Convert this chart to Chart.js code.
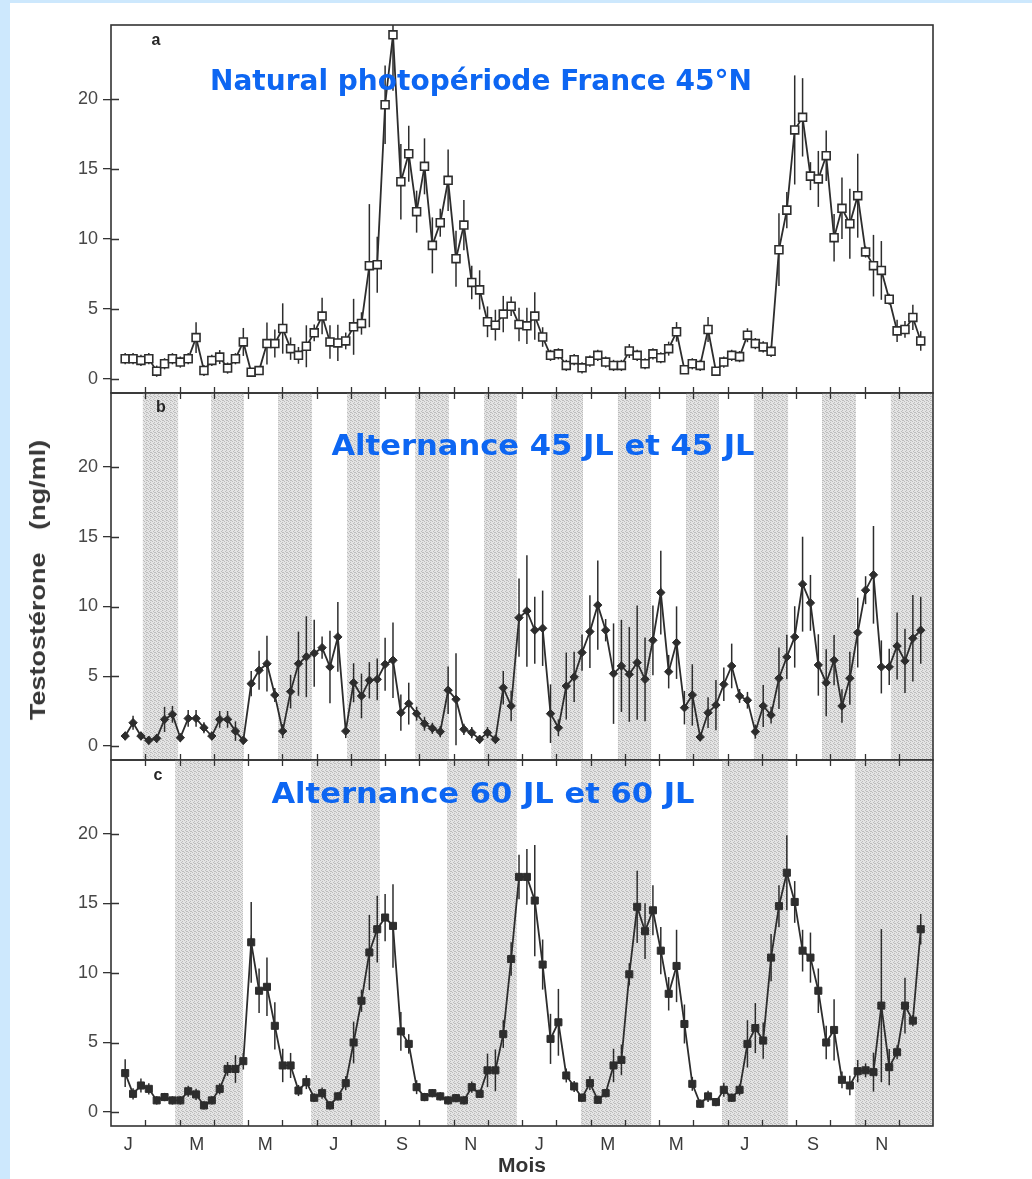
<!DOCTYPE html>
<html>
<head>
<meta charset="utf-8">
<title>Testostérone</title>
<script src="https://cdn.jsdelivr.net/npm/chart.js@4.4.1/dist/chart.umd.min.js"></script>
<style>
  html, body { margin: 0; padding: 0; }
  body { width: 1032px; height: 1179px; background: #cde8fd; position: relative; overflow: hidden; }
  #sheet { position: absolute; left: 10px; top: 3px; width: 1022px; height: 1176px; background: #fff; }
  canvas { position: absolute; left: 0; }
  .lbl { position: absolute; white-space: pre; transform: translate(-50%, -50%); }
  .title { font: bold 29px "DejaVu Sans", sans-serif; color: #0d66f2; }
  .panel { font: bold 16px "Liberation Sans", Arial, sans-serif; color: #262626; }
  .ytitle { font: bold 22px "Liberation Sans", Arial, sans-serif; color: #383838; }
</style>
</head>
<body>
<div id="sheet"></div>
<canvas id="cA" width="1032" height="409" style="top:0px"></canvas>
<canvas id="cB" width="1032" height="399" style="top:377px"></canvas>
<canvas id="cC" width="1032" height="435" style="top:744px"></canvas>

<div class="lbl panel" style="left:156px;top:40px">a</div>
<div class="lbl panel" style="left:161px;top:407px">b</div>
<div class="lbl panel" style="left:158px;top:775px">c</div>

<div class="lbl title" data-w="542" style="left:481px;top:80px">Natural photopériode France 45°N</div>
<div class="lbl title" data-w="423" style="left:543px;top:445px">Alternance 45 JL et 45 JL</div>
<div class="lbl title" data-w="423" style="left:483px;top:793px">Alternance 60 JL et 60 JL</div>

<div class="lbl ytitle" data-w="280" data-rot="-90" style="left:38px;top:580px">Testostérone   (ng/ml)</div>

<script>
// Axis labelling: month initials, centred in every other month over two years
const monthLabels = ['J', 'M', 'M', 'J', 'S', 'N', 'J', 'M', 'M', 'J', 'S', 'N'];
const labelMonths = [0.5, 2.5, 4.5, 6.5, 8.5, 10.5, 12.5, 14.5, 16.5, 18.5, 20.5, 22.5];
const yTickValues = [0, 5, 10, 15, 20];

// Weekly sampling: first sample week counted from 1 January
const firstWeek = 1.8;

// (a) natural photoperiod, France 45°N — mean testosterone (ng/ml) and SEM
const naturalT = [
  1.45, 1.45, 1.33, 1.45, 0.56, 1.09, 1.45, 1.21, 1.45, 2.96,
  0.61, 1.33, 1.57, 0.78, 1.45, 2.65, 0.49, 0.60, 2.53, 2.53,
  3.61, 2.17, 1.69, 2.34, 3.30, 4.50, 2.65, 2.58, 2.72, 3.73,
  3.97, 8.10, 8.17, 19.6, 24.6, 14.1, 16.1, 11.96, 15.2, 9.55,
  11.17, 14.2, 8.60, 11.0, 6.90, 6.37, 4.09, 3.85, 4.64, 5.20,
  3.90, 3.80, 4.50, 3.00, 1.69, 1.80, 0.97, 1.38, 0.80, 1.28,
  1.69, 1.21, 0.97, 0.97, 2.00, 1.69, 1.09, 1.80, 1.52, 2.17,
  3.37, 0.66, 1.09, 0.97, 3.54, 0.56, 1.21, 1.69, 1.60, 3.13,
  2.53, 2.29, 1.98, 9.24, 12.07, 17.8, 18.7, 14.5, 14.3, 15.96,
  10.1, 12.2, 11.1, 13.1, 9.08, 8.10, 7.76, 5.70, 3.44, 3.54,
  4.40, 2.72
];
const naturalErr = [
  0.4, 0.4, 0.4, 0.4, 0.4, 0.4, 0.4, 0.4, 0.4, 1.1,
  0.4, 0.4, 0.5, 0.4, 0.4, 1.0, 0.3, 0.3, 1.5, 1.0,
  1.8, 0.8, 0.6, 1.5, 0.6, 1.3, 1.2, 1.3, 0.6, 2.0,
  0.8, 4.4, 2.0, 2.8, 4.0, 2.7, 2.0, 1.5, 2.0, 2.0,
  1.0, 2.2, 2.0, 1.8, 1.2, 1.4, 1.1, 1.1, 1.3, 0.7,
  1.2, 1.3, 1.7, 0.7, 0.4, 0.4, 0.4, 0.4, 0.4, 0.4,
  0.4, 0.4, 0.4, 0.4, 0.5, 0.4, 0.4, 0.4, 0.4, 0.5,
  0.7, 0.3, 0.4, 0.4, 0.9, 0.3, 0.4, 0.4, 0.4, 0.5,
  0.4, 0.4, 0.4, 2.6, 1.3, 3.9, 2.8, 1.0, 2.0, 1.8,
  1.7, 2.2, 2.5, 3.0, 0.4, 2.2, 2.1, 0.4, 0.8, 0.6,
  0.9, 0.7
];

// (b) alternating long / short days, 45-day regime
const alt45T = [
  0.72, 1.67, 0.72, 0.41, 0.55, 1.91, 2.27, 0.60, 1.98, 1.98,
  1.31, 0.72, 1.91, 1.91, 1.07, 0.41, 4.47, 5.43, 5.90, 3.66,
  1.07, 3.90, 5.90, 6.40, 6.65, 7.05, 5.67, 7.82, 1.07, 4.54,
  3.59, 4.71, 4.78, 5.86, 6.15, 2.39, 3.04, 2.32, 1.60, 1.27,
  1.03, 4.00, 3.35, 1.20, 0.96, 0.48, 0.96, 0.48, 4.18, 2.87,
  9.20, 9.68, 8.30, 8.44, 2.32, 1.31, 4.30, 4.95, 6.70, 8.20,
  10.1, 8.30, 5.19, 5.74, 5.14, 5.98, 4.78, 7.58, 11.0, 5.33,
  7.41, 2.75, 3.66, 0.65, 2.39, 2.94, 4.42, 5.74, 3.59, 3.28,
  1.03, 2.87, 2.22, 4.86, 6.38, 7.82, 11.6, 10.26, 5.81, 4.54,
  6.15, 2.87, 4.86, 8.13, 11.17, 12.27, 5.67, 5.67, 7.17, 6.10,
  7.72, 8.30
];
const alt45Err = [
  0.3, 0.5, 0.3, 0.3, 0.3, 0.9, 0.6, 0.3, 0.6, 0.6,
  0.4, 0.3, 0.6, 0.6, 0.7, 0.3, 0.9, 1.4, 2.0, 0.5,
  0.5, 1.2, 2.3, 2.9, 2.4, 0.8, 2.6, 2.5, 0.5, 1.4,
  1.6, 1.3, 1.5, 1.9, 2.7, 1.3, 1.5, 0.5, 0.5, 0.4,
  0.4, 1.7, 3.3, 0.4, 0.4, 0.3, 0.4, 0.3, 1.2, 1.1,
  2.8, 4.0, 2.4, 2.7, 2.1, 0.6, 2.4, 1.8, 1.3, 2.6,
  3.2, 0.8, 3.6, 3.3, 3.4, 4.1, 3.0, 2.5, 3.0, 1.2,
  2.6, 1.2, 2.2, 0.3, 1.1, 1.8, 1.2, 1.6, 0.5, 0.6,
  0.5, 1.5, 0.6, 2.2, 1.6, 2.2, 3.4, 2.0, 2.2, 2.4,
  1.8, 1.2, 1.9, 2.5, 1.0, 3.5, 1.9, 1.3, 2.4, 2.3,
  3.1, 2.4
];

// (c) alternating long / short days, 60-day regime
const alt60T = [
  2.80, 1.31, 1.91, 1.67, 0.84, 1.08, 0.84, 0.84, 1.50, 1.27,
  0.48, 0.84, 1.67, 3.10, 3.10, 3.66, 12.2, 8.72, 9.00, 6.20,
  3.35, 3.35, 1.55, 2.15, 1.03, 1.36, 0.48, 1.13, 2.08, 5.00,
  8.00, 11.47, 13.14, 13.98, 13.38, 5.80, 4.90, 1.79, 1.08, 1.36,
  1.13, 0.84, 1.00, 0.84, 1.79, 1.31, 3.00, 3.00, 5.60, 11.0,
  16.9, 16.9, 15.2, 10.6, 5.26, 6.45, 2.63, 1.84, 1.03, 2.08,
  0.88, 1.36, 3.35, 3.75, 9.90, 14.75, 13.0, 14.5, 11.6, 8.50,
  10.5, 6.33, 2.03, 0.60, 1.13, 0.72, 1.60, 1.03, 1.60, 4.90,
  6.04, 5.14, 11.1, 14.8, 17.2, 15.1, 11.6, 11.1, 8.72, 5.00,
  5.90, 2.32, 1.91, 2.94, 3.00, 2.87, 7.65, 3.23, 4.30, 7.65,
  6.57, 13.14
];
const alt60Err = [
  1.0, 0.4, 0.5, 0.4, 0.3, 0.3, 0.3, 0.3, 0.4, 0.4,
  0.3, 0.3, 0.4, 0.5, 1.0, 0.6, 2.9, 1.6, 2.1, 1.7,
  1.2, 0.9, 0.4, 0.5, 0.3, 0.4, 0.3, 0.3, 0.5, 1.5,
  0.8, 2.7, 2.4, 1.7, 3.0, 1.4, 0.7, 0.5, 0.3, 0.3,
  0.3, 0.3, 0.3, 0.3, 0.4, 0.3, 1.2, 1.5, 1.0, 1.2,
  1.6, 2.0, 4.0, 1.8, 1.8, 2.4, 0.5, 0.4, 0.3, 0.5,
  0.3, 0.3, 1.2, 1.1, 0.8, 2.6, 2.0, 1.8, 1.7, 1.2,
  2.6, 1.4, 0.5, 0.3, 0.4, 0.3, 0.5, 0.3, 0.4, 1.7,
  1.8, 1.3, 1.7, 1.5, 2.7, 1.5, 1.5, 1.8, 1.6, 1.2,
  2.2, 0.6, 0.7, 0.8, 0.5, 1.4, 5.5, 1.3, 0.5, 2.0,
  0.4, 1.1
];

// Short-day periods (start, end) in months from 1 January
const shade45 = [
  [0.93, 1.96], [2.92, 3.88], [4.88, 5.87], [6.89, 7.85], [8.88, 9.87], [10.89, 11.85],
  [12.85, 13.78], [14.80, 15.77], [16.79, 17.75], [18.77, 19.77], [20.76, 21.75], [22.77, 24]
];
const shade60 = [
  [1.87, 3.85], [5.84, 7.85], [9.81, 11.85], [13.72, 15.77], [17.84, 19.77], [21.72, 24]
];

const MONTH_DAYS = 30.4375;
const weekToMonth = w => w * 7 / MONTH_DAYS;
const FONT = '"Liberation Sans", Arial, sans-serif';
const INK = '#2d2d2d';

// fine grey stipple used for the short-day periods
const stipple = (() => {
  const c = document.createElement('canvas');
  c.width = 4; c.height = 4;
  const g = c.getContext('2d');
  g.fillStyle = '#e4e4e4';
  g.fillRect(0, 0, 4, 4);
  g.fillStyle = '#bcbcbc';
  [[0, 0], [2, 1], [1, 2], [3, 3], [2, 3]].forEach(([x, y]) => g.fillRect(x, y, 1, 1));
  return c;
})();

// shaded periods, error bars, frame and inward tick marks
const panelDecor = {
  id: 'panelDecor',
  beforeDatasetsDraw(chart, args, opts) {
    const { ctx, chartArea: a, scales: { x, y } } = chart;
    ctx.save();
    if (opts.bands) {
      ctx.fillStyle = ctx.createPattern(stipple, 'repeat');
      opts.bands.forEach(([s, e]) => {
        const x0 = x.getPixelForValue(s), x1 = x.getPixelForValue(e);
        ctx.fillRect(x0, a.top, x1 - x0, a.bottom - a.top);
      });
    }
    ctx.beginPath();
    ctx.rect(a.left, a.top, a.right - a.left, a.bottom - a.top);
    ctx.clip();
    ctx.strokeStyle = INK;
    ctx.lineWidth = 1.5;
    chart.data.datasets.forEach((ds, di) => {
      const meta = chart.getDatasetMeta(di);
      meta.data.forEach((pt, i) => {
        const v = ds.data[i].y, e = ds.errors[i];
        ctx.beginPath();
        ctx.moveTo(pt.x, y.getPixelForValue(v + e));
        ctx.lineTo(pt.x, y.getPixelForValue(v - e));
        ctx.stroke();
      });
    });
    ctx.restore();
  },
  afterDatasetsDraw(chart, args, opts) {
    const { ctx, chartArea: a, scales: { x, y } } = chart;
    ctx.save();
    ctx.strokeStyle = '#333';
    ctx.lineWidth = 1.6;
    ctx.strokeRect(a.left, a.top, a.right - a.left, a.bottom - a.top);
    ctx.lineWidth = 1.3;
    ctx.beginPath();
    yTickValues.forEach(v => {
      const py = Math.round(y.getPixelForValue(v)) + 0.5;
      ctx.moveTo(a.left, py);
      ctx.lineTo(a.left + 8, py);
    });
    for (let m = 1; m < 24; m++) {
      const px = Math.round(x.getPixelForValue(m)) + 0.5;
      ctx.moveTo(px, a.bottom);
      ctx.lineTo(px, a.bottom - 6);
      if (opts.topTicks) {
        ctx.moveTo(px, a.top);
        ctx.lineTo(px, a.top + 6);
      }
    }
    ctx.stroke();
    ctx.restore();
  }
};

function makePanel(id, values, errors, marker, cfg) {
  const xScale = { type: 'linear', min: 0, max: 24, display: false };
  if (cfg.showX) {
    Object.assign(xScale, {
      display: true,
      afterBuildTicks: s => { s.ticks = labelMonths.map(v => ({ value: v })); },
      afterFit: s => { s.height = 53; },
      grid: { display: false, drawTicks: false },
      border: { display: false },
      ticks: {
        autoSkip: false, maxRotation: 0, minRotation: 0, padding: 8,
        color: '#3a3a3a', font: { family: FONT, size: 18 },
        callback: (v, i) => monthLabels[i]
      },
      title: {
        display: true, text: 'Mois', color: '#333',
        font: { family: FONT, size: 21, weight: 'bold' },
        padding: { top: 0, bottom: 0 }
      }
    });
  }
  return new Chart(document.getElementById(id), {
    type: 'line',
    data: {
      datasets: [Object.assign({
        data: values.map((v, i) => ({ x: weekToMonth(firstWeek + i), y: v })),
        errors: errors,
        borderColor: INK,
        borderWidth: 1.8,
        tension: 0,
        fill: false
      }, marker)]
    },
    options: {
      responsive: false,
      animation: false,
      devicePixelRatio: 1,
      layout: { autoPadding: false, padding: cfg.padding },
      plugins: {
        legend: { display: false },
        tooltip: { enabled: false },
        panelDecor: { bands: cfg.bands, topTicks: cfg.topTicks }
      },
      scales: {
        x: xScale,
        y: {
          min: -1, max: 25.3,
          afterBuildTicks: s => { s.ticks = yTickValues.map(v => ({ value: v })); },
          afterFit: s => { s.width = 111; },
          grid: { drawOnChartArea: false, drawTicks: true, tickLength: 8, color: '#333', lineWidth: 1.3 },
          border: { display: false },
          ticks: { padding: 5, color: '#474747', font: { family: FONT, size: 18 } }
        }
      }
    },
    plugins: [panelDecor]
  });
}

makePanel('cA', naturalT, naturalErr,
  { pointStyle: 'rect', pointRadius: 5.6, pointBackgroundColor: '#ffffff', pointBorderColor: INK, pointBorderWidth: 1.6 },
  { padding: { left: 0, right: 99, top: 25, bottom: 16 }, bands: null, topTicks: false });

makePanel('cB', alt45T, alt45Err,
  { pointStyle: 'rectRot', pointRadius: 4.2, pointBackgroundColor: INK, pointBorderColor: INK, pointBorderWidth: 1 },
  { padding: { left: 0, right: 99, top: 16, bottom: 16 }, bands: shade45, topTicks: true });

makePanel('cC', alt60T, alt60Err,
  { pointStyle: 'rect', pointRadius: 5, pointBackgroundColor: INK, pointBorderColor: INK, pointBorderWidth: 1 },
  { padding: { left: 0, right: 99, top: 16, bottom: 0 }, bands: shade60, topTicks: true, showX: true });

// stretch the overlay captions to their set widths
document.querySelectorAll('.lbl[data-w]').forEach(el => {
  const k = Number(el.dataset.w) / el.offsetWidth;
  const rot = el.dataset.rot ? ` rotate(${el.dataset.rot}deg)` : '';
  el.style.transform = `translate(-50%, -50%)${rot} scaleX(${k})`;
});
</script>
</body>
</html>
